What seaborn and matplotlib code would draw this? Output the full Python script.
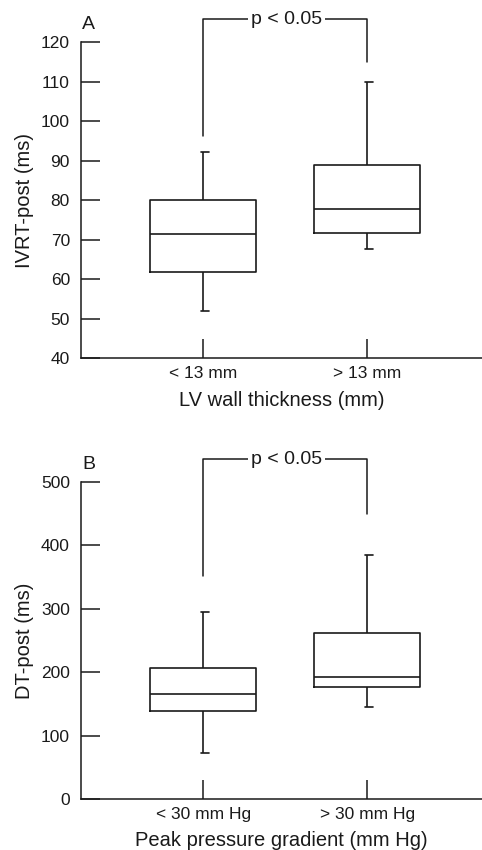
import seaborn as sns
import matplotlib.pyplot as plt
import pandas as pd

# five-number summaries: min, Q1, median, Q3, max
groups_a = ["< 13 mm", "> 13 mm"]
ivrt_lt13 = [52, 61.8, 71.4, 80, 92.2]
ivrt_gt13 = [67.6, 71.7, 77.8, 89, 110]

groups_b = ["< 30 mm Hg", "> 30 mm Hg"]
dt_lt30 = [72.6, 138.8, 165.6, 206, 294.4]
dt_gt30 = [144.6, 176, 193, 261.3, 385.4]

# significance brackets: top, left end, right end
bracket_a = [125.8, 96.2, 115.0]
bracket_b = [535.7, 352, 449]

sns.set_style("ticks")
plt.rcParams["font.family"] = ["Liberation Sans", "DejaVu Sans"]
ink = "#1a1a1a"

fig = plt.figure(figsize=(4.82, 8.5), dpi=100)
ax_a = fig.add_axes([81 / 482, 1 - 358.3 / 850, 1 - 81 / 482, 316.3 / 850])
ax_b = fig.add_axes([81 / 482, 1 - 799 / 850, 1 - 81 / 482, 317 / 850])


def panel(ax, groups, first, second, ylim, yticks, ylabel, xlabel, letter, bracket):
    df = pd.DataFrame({
        "group": [groups[0]] * len(first) + [groups[1]] * len(second),
        "value": first + second,
    })
    sns.boxplot(data=df, x="group", y="value", ax=ax, whis=(0, 100),
                fill=False, color=ink, linecolor=ink, linewidth=1.2,
                width=0.646, showfliers=False)
    # shorten the whisker caps
    ends = set(first[::4] + second[::4])
    for line in ax.lines:
        xs, ys = line.get_xdata(), line.get_ydata()
        if len(xs) == 2 and ys[0] == ys[1] and ys[0] in ends:
            mid = (xs[0] + xs[1]) / 2
            line.set_xdata([mid - 0.012, mid + 0.037])
    ax.set_xlim(-0.744, 1.70)
    ax.set_ylim(*ylim)
    ax.set_yticks(yticks)
    ax.spines["top"].set_visible(False)
    ax.spines["right"].set_visible(False)
    ax.spines["left"].set_bounds(*ylim)
    for sp in ("left", "bottom"):
        ax.spines[sp].set_color(ink)
        ax.spines[sp].set_linewidth(1.1)
    ax.tick_params(axis="both", direction="in", length=14, width=1.1,
                   color=ink, labelsize=12.5, labelcolor=ink)
    ax.tick_params(axis="y", pad=8)
    ax.tick_params(axis="x", pad=5.5)
    ax.set_ylabel(ylabel, fontsize=14.5, color=ink, labelpad=5)
    ax.set_xlabel(xlabel, fontsize=14.5, color=ink, labelpad=7)
    ax.text(0.003, 1.054, letter, transform=ax.transAxes, ha="left",
            va="center", fontsize=14, color=ink)
    top, left_end, right_end = bracket
    ax.plot([0, 0, 1, 1], [left_end, top, top, right_end], color=ink,
            lw=1.1, clip_on=False)
    ax.text(0.51, top, "p < 0.05", ha="center", va="center", fontsize=14,
            color=ink, bbox=dict(facecolor="white", edgecolor="none", pad=2))


panel(ax_a, groups_a, ivrt_lt13, ivrt_gt13, (40, 120), range(40, 121, 10),
      "IVRT-post (ms)", "LV wall thickness (mm)", "A", bracket_a)
panel(ax_b, groups_b, dt_lt30, dt_gt30, (0, 500), range(0, 501, 100),
      "DT-post (ms)", "Peak pressure gradient (mm Hg)", "B", bracket_b)

fig.savefig("out.png", dpi=100)
